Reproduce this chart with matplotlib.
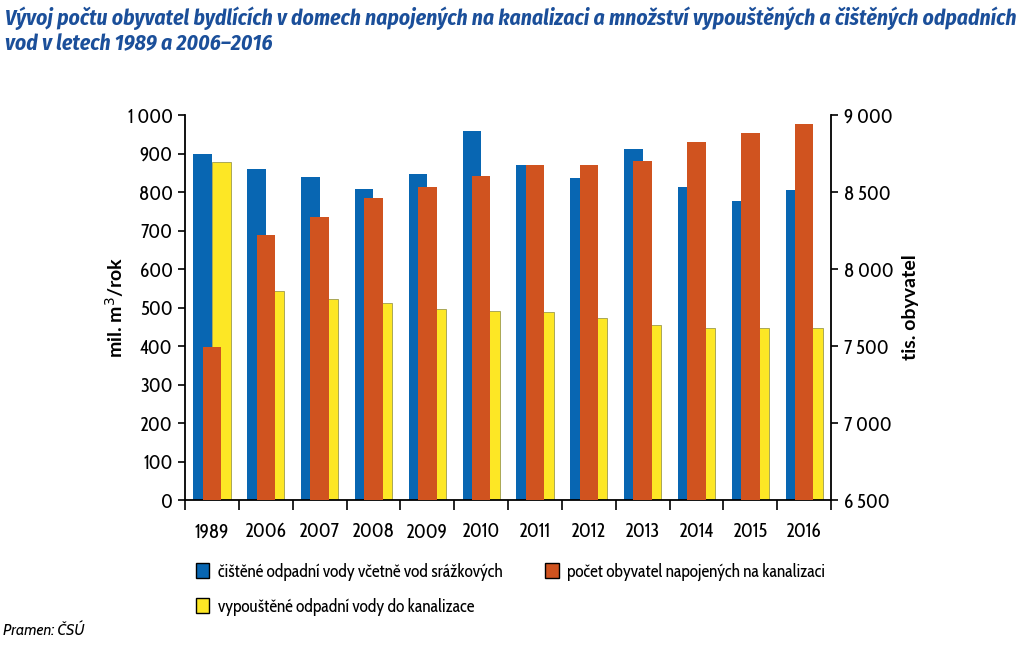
import matplotlib
matplotlib.use("Agg")
import matplotlib.pyplot as plt
import numpy as np
from matplotlib.patches import Patch

years = ["1989", "2006", "2007", "2008", "2009", "2010",
         "2011", "2012", "2013", "2014", "2015", "2016"]
cistene = [900, 859, 840, 807, 846, 958, 869, 836, 913, 812, 777, 805]          # mil. m3/rok
vypoustene = [878, 543, 521, 511, 495, 490, 488, 472, 455, 446, 446, 446]      # mil. m3/rok
obyvatel = [7496, 8219, 8340, 8461, 8530, 8606, 8673, 8673, 8699, 8827, 8883, 8939]  # tis.

labels = ["čištěné odpadní vody včetně vod srážkových",
          "počet obyvatel napojených na kanalizaci",
          "vypouštěné odpadní vody do kanalizace"]

BLUE, ORANGE, YELLOW = "#0866b2", "#d0531f", "#fde725"
FONT = ["Cabin Condensed", "Lato", "DejaVu Sans"]
TITLE_FONT = ["Fira Sans Condensed", "Lato", "DejaVu Sans"]
plt.rcParams["font.family"] = FONT

fig = plt.figure(figsize=(10.24, 6.47), dpi=100)
ax = fig.add_axes([0.1807, 0.2272, 0.6309, 0.595])
ax2 = ax.twinx()

x = np.arange(len(years))
w = 0.345
off = 0.172
ax.bar(x - off, cistene, w, color=BLUE, zorder=2)
ax.bar(x + off, vypoustene, w, color=YELLOW, edgecolor="#8a8a40", linewidth=0.5, zorder=2)
ax2.bar(x, np.array(obyvatel) - 6500, w, bottom=6500, color=ORANGE, zorder=3)

ax.set_xlim(-0.5, len(years) - 0.5)
ax.set_ylim(0, 1000)
ax2.set_ylim(6500, 9000)

ax.set_yticks(range(0, 1001, 100))
ax.set_yticklabels([f"{v:,}".replace(",", " ") for v in range(0, 1001, 100)])
ax2.set_yticks(range(6500, 9001, 500))
ax2.set_yticklabels([f"{v:,}".replace(",", " ") for v in range(6500, 9001, 500)])

ax.set_xticks(x)
ax.set_xticklabels(years)
ax.set_xticks(np.arange(-0.5, len(years)), minor=True)
ax.tick_params(axis="x", which="major", length=0, pad=16, labelsize=14)
ax.tick_params(axis="x", which="minor", length=7, direction="out", width=1.2)
ax.tick_params(axis="y", length=5, width=1.2, labelsize=14, pad=4)
ax2.tick_params(axis="y", length=5, width=1.2, labelsize=14, pad=4)

for a in (ax, ax2):
    a.spines["top"].set_visible(False)
    for s in ("left", "right", "bottom"):
        a.spines[s].set_linewidth(1.3)
ax.spines["right"].set_visible(False)
ax2.spines["left"].set_visible(False)
ax2.spines["bottom"].set_visible(False)

ax.set_ylabel("mil. m$^{3}$/rok", fontsize=14, fontweight="bold", labelpad=1,
              family=["Lato", "DejaVu Sans"])
ax2.set_ylabel("tis. obyvatel", fontsize=14, fontweight="bold", labelpad=6,
               family=["Lato", "DejaVu Sans"])

fig.text(0.005, 0.99, "Vývoj počtu obyvatel bydlících v domech napojených na kanalizaci a množství vypouštěných a čištěných odpadních\nvod v letech 1989 a 2006–2016",
         ha="left", va="top", fontsize=15.5, fontweight="bold", fontstyle="italic",
         color="#1b4f9a", family=TITLE_FONT, linespacing=1.2)

handles = [Patch(facecolor=BLUE, edgecolor="black", linewidth=1),
           Patch(facecolor=ORANGE, edgecolor="black", linewidth=1),
           Patch(facecolor=YELLOW, edgecolor="black", linewidth=1)]
pos = [(0.191, 0.116), (0.532, 0.116), (0.191, 0.062)]
for h, lab, (px, py) in zip(handles, labels, pos):
    fig.legend([h], [lab], loc="center left", bbox_to_anchor=(px, py), frameon=False,
               fontsize=12.5, handlelength=0.8, handleheight=0.95, handletextpad=0.5,
               borderaxespad=0, borderpad=0)

fig.text(0.003, 0.012, "Pramen: ČSÚ", ha="left", va="bottom", fontsize=11,
         fontstyle="italic", family=["Cabin", "Lato", "DejaVu Sans"])

fig.savefig("out.png", dpi=100)
